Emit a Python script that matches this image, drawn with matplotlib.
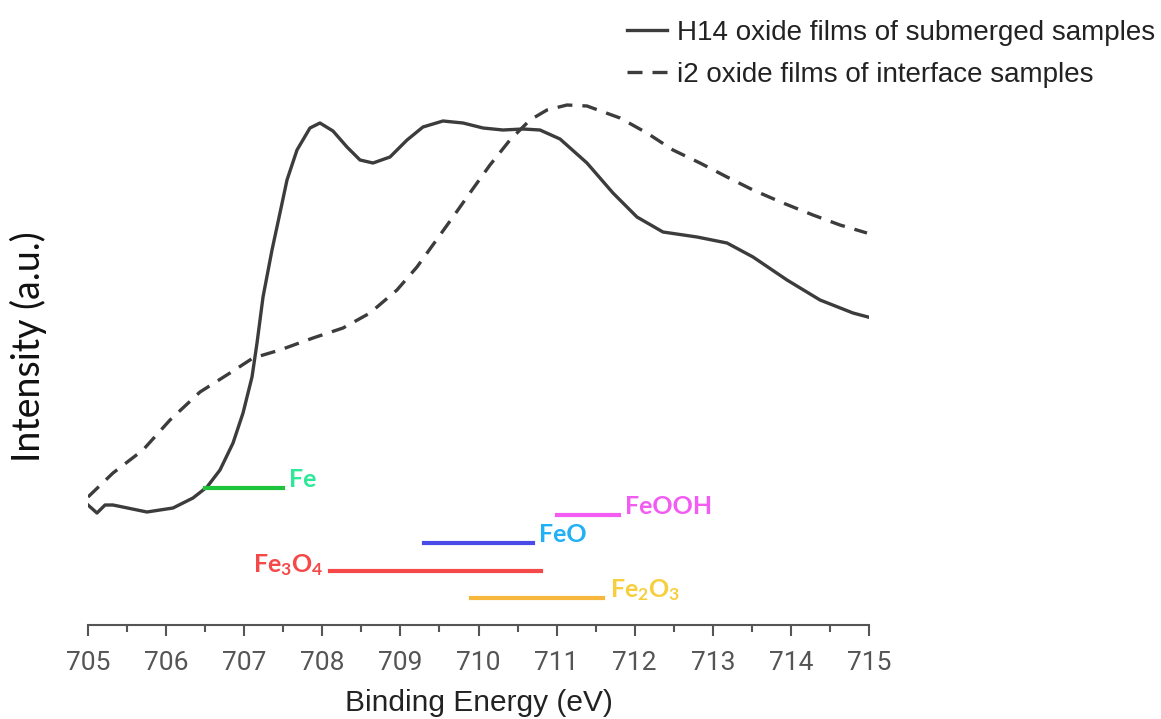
import numpy as np
import matplotlib.pyplot as plt
from matplotlib.ticker import MultipleLocator

plt.rcParams['mathtext.fontset'] = 'custom'
plt.rcParams['mathtext.rm'] = 'Lato:bold'
plt.rcParams['mathtext.default'] = 'rm'

# solid curve: H14 oxide films of submerged samples
h14_ev = [705.000, 705.115, 705.218, 705.320, 705.755, 706.088, 706.344, 706.524, 706.690, 706.857,
          706.985, 707.100, 707.164, 707.241, 707.356, 707.458, 707.548, 707.676, 707.842, 707.970,
          708.137, 708.316, 708.483, 708.649, 708.867, 709.085, 709.289, 709.545, 709.802, 710.058,
          710.314, 710.570, 710.787, 711.044, 711.389, 711.722, 712.029, 712.362, 712.798, 713.182,
          713.515, 713.950, 714.373, 714.795, 714.987]
h14_int = [1.20, 1.12, 1.20, 1.20, 1.13, 1.17, 1.27, 1.38, 1.55, 1.82,
           2.12, 2.48, 2.82, 3.28, 3.75, 4.12, 4.45, 4.75, 4.97, 5.02,
           4.94, 4.78, 4.65, 4.62, 4.68, 4.85, 4.98, 5.04, 5.02, 4.97,
           4.95, 4.96, 4.95, 4.86, 4.62, 4.32, 4.08, 3.93, 3.88, 3.82,
           3.68, 3.45, 3.25, 3.12, 3.08]

# dashed curve: i2 oxide films of interface samples
i2_ev = [705.000, 705.320, 705.704, 706.050, 706.434, 706.818, 707.113, 707.458, 707.881, 708.265,
         708.611, 708.956, 709.212, 709.443, 709.673, 709.917, 710.147, 710.403, 710.659, 710.877,
         711.133, 711.389, 711.812, 712.157, 712.490, 712.836, 713.182, 713.515, 713.899, 714.283,
         714.629, 714.974]
i2_int = [1.28, 1.52, 1.75, 2.05, 2.33, 2.52, 2.67, 2.75, 2.87, 2.97,
          3.12, 3.35, 3.58, 3.83, 4.08, 4.35, 4.60, 4.85, 5.05, 5.15,
          5.20, 5.19, 5.07, 4.92, 4.75, 4.62, 4.48, 4.35, 4.22, 4.10,
          4.00, 3.92]

# reference binding energy ranges
species = ['Fe', 'FeOOH', 'FeO', 'Fe$_3$O$_4$', 'Fe$_2$O$_3$']
range_lo = [706.5, 711.0, 709.3, 708.1, 709.9]
range_hi = [707.5, 711.8, 710.7, 710.8, 711.6]
range_y = [1.37, 1.10, 0.82, 0.54, 0.27]
line_colors = ['#1ec43c', '#f25cf2', '#4a4ae6', '#f54848', '#f7b73c']
text_colors = ['#2ee89a', '#f25cf2', '#1fb0f5', '#f54848', '#f7cf3c']

fig = plt.figure(figsize=(11.61, 7.19), dpi=100)
ax = fig.add_axes([88 / 1161, 1 - 625 / 719, (869 - 88) / 1161, 625 / 719])

ax.plot(h14_ev, h14_int, color='#3c3c3c', lw=2.4, solid_joinstyle='round',
        label='H14 oxide films of submerged samples')
ax.plot(i2_ev, i2_int, color='#3c3c3c', lw=2.4, dashes=(4.5, 3),
        label='i2 oxide films of interface samples')

for i, name in enumerate(species):
    ax.plot([range_lo[i], range_hi[i]], [range_y[i], range_y[i]],
            color=line_colors[i], lw=3)
    if name.startswith('Fe$_3'):
        ax.text(range_lo[i] - 0.08, range_y[i] + 0.06, name, color=text_colors[i],
                ha='right', va='center', fontsize=18, family='Lato', weight='bold')
    else:
        ax.text(range_hi[i] + 0.08, range_y[i] + 0.08, name, color=text_colors[i],
                ha='left', va='center', fontsize=18, family='Lato', weight='bold')

ax.set_xlim(705, 715)
ax.set_ylim(0, 6.25)
ax.xaxis.set_major_locator(MultipleLocator(1))
ax.xaxis.set_minor_locator(MultipleLocator(0.5))
for side in ['top', 'right', 'left']:
    ax.spines[side].set_visible(False)
ax.spines['bottom'].set_color('#555555')
ax.spines['bottom'].set_linewidth(1.5)
ax.set_yticks([])
ax.tick_params(axis='x', which='major', length=8, width=1.5, color='#555555',
               labelsize=19, labelcolor='#555555', pad=11)
ax.tick_params(axis='x', which='minor', length=5, width=1.5, color='#555555')
for lab in ax.get_xticklabels():
    lab.set_family('Roboto')

ax.set_xlabel('Binding Energy (eV)', fontsize=21.5, family='Liberation Sans', color='#222222', labelpad=10)
ax.set_ylabel('Intensity (a.u.)', fontsize=27, family='Lato', color='#111111')
ax.yaxis.set_label_coords(-0.0525, 0.445)

fig.legend(loc='upper left', bbox_to_anchor=(627 / 1161, 1 - 20 / 719), frameon=False,
           prop={'family': 'Liberation Sans', 'size': 20}, handlelength=1.45,
           handletextpad=0.36, labelspacing=0.58, borderpad=0, borderaxespad=0,
           labelcolor='#222222')

fig.savefig('out.png', dpi=100)
